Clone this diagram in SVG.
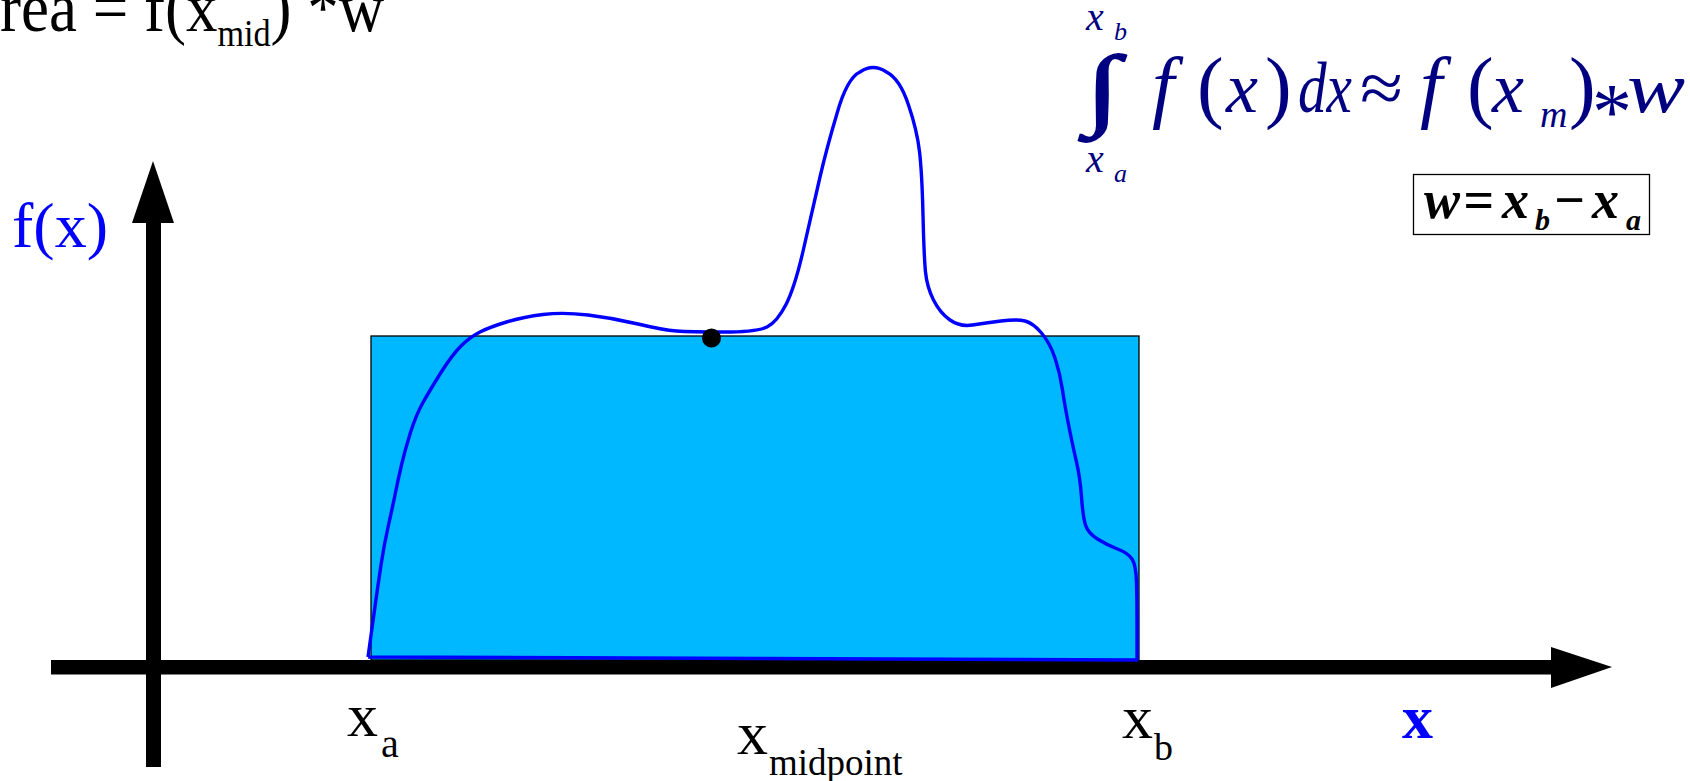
<svg xmlns="http://www.w3.org/2000/svg" width="1690" height="781" viewBox="0 0 1690 781">
<style>
.serif{font-family:"Liberation Serif","Times New Roman",serif}
.ax{fill:#000;stroke:none}
.mf{fill:#000080;font-family:"Liberation Serif","Times New Roman",serif;font-style:italic}
.up{font-style:normal}
.bx{fill:#000;font-family:"Liberation Serif","Times New Roman",serif;font-style:italic;font-weight:bold}
.lbl{fill:#000;font-family:"Liberation Serif","Times New Roman",serif}
</style>
<rect width="1690" height="781" fill="#fff"/>
<g id="area">
<rect x="371" y="336" width="768" height="324" fill="#00b8ff" stroke="#000" stroke-width="1.3"/>
</g>
<g id="connectors">
<rect class="ax" x="146" y="222" width="15" height="545"/>
<polygon class="ax" points="132,223 153,161 174,223"/>
<rect class="ax" x="51" y="660" width="1502" height="14.5"/>
<polygon class="ax" points="1551,647 1612,667 1551,688"/>
</g>
<g id="curve">
<path fill="none" stroke="#0000ff" stroke-width="3.4" stroke-linejoin="round" d="M368,657 Q372,628 375,606.5 Q378,585 381,565 Q384,545 388.5,525 Q393,505 395.5,492.5 Q398,480 401.5,465 Q405,450 410.5,432.5 Q416,415 423,402.5 Q430,390 441,372.5 Q452,355 461,346 Q470,337 480,332 Q490,327 506.5,322 Q523,317 543,314.5 Q563,312 588,315 Q613,318 638,324 Q663,330 676.5,331 Q690,332 723.5,332 Q757,332 767,327 Q777,322 786,304.5 Q795,287 804,247 Q813,207 820,177 Q827,147 837,113.5 Q847,78 860,72 Q873,63 886.5,72 Q900,79 908.5,105 Q917,130 919.5,151.5 Q922,173 923,215 Q924,257 925.5,272 Q927,287 933.5,300 Q940,313 950,320 Q960,327 972.5,325 Q985,323 1001,321 Q1017,319 1025,321 Q1033,323 1041.5,333 Q1050,343 1055,358 Q1060,373 1062.5,390 Q1065,407 1069,427 Q1073,447 1076.5,462 Q1080,477 1081.5,497 Q1083,517 1085.5,525 Q1088,533 1097.5,539 Q1107,545 1117.5,549 Q1128,553 1132,559 Q1136,565 1136.5,582.5 Q1137,600 1137,620 L1137,660 L368,657"/>
</g>
<g id="midpoint-dot">
<circle cx="711.5" cy="338" r="9.5" fill="#000"/>
</g>
<g id="title" transform="scale(0.9 1)">
<text class="lbl" x="-50.5" y="31" font-size="70">Area = f(x<tspan font-size="38" dy="15">mid</tspan><tspan dy="-15">) *w</tspan></text>
</g>
<g id="y-label">
<text class="serif" x="12" y="247" font-size="64" fill="#0000ff">f(x)</text>
</g>
<g id="label-xa">
<text class="lbl" x="347" y="736" font-size="62">x</text>
<text class="lbl" x="381" y="757" font-size="40">a</text>
</g>
<g id="label-xmid">
<text class="lbl" x="737" y="754" font-size="62">x</text>
<text class="lbl" x="769" y="775" font-size="37">midpoint</text>
</g>
<g id="label-xb">
<text class="lbl" x="1122" y="738" font-size="62">x</text>
<text class="lbl" x="1154" y="760" font-size="38">b</text>
</g>
<g id="x-label">
<text class="serif" x="1402" y="738" font-size="62" font-weight="bold" fill="#0000ff">x</text>
</g>
<g id="formula">
<text class="mf" x="1086" y="30" font-size="40">x</text>
<text class="mf" x="1114" y="40" font-size="26">b</text>
<text class="mf up" transform="translate(1085,118) scale(1.4 1)" x="0" y="0" font-size="90" stroke="#000080" stroke-width="1.6">∫</text>
<text class="mf" x="1086" y="172" font-size="40">x</text>
<text class="mf" x="1114" y="182" font-size="26">a</text>
<text class="mf" x="1152" y="113" font-size="80">f</text>
<text class="mf up" x="1197" y="113" font-size="80">(</text>
<text class="mf" x="1226" y="112" font-size="72">x</text>
<text class="mf up" x="1265" y="113" font-size="80">)</text>
<text class="mf" x="1298" y="112" font-size="72" textLength="54" lengthAdjust="spacingAndGlyphs">dx</text>
<text class="mf up" x="1360" y="112" font-size="72" textLength="43" lengthAdjust="spacingAndGlyphs">≈</text>
<text class="mf" x="1420" y="113" font-size="80">f</text>
<text class="mf up" x="1467" y="113" font-size="80">(</text>
<text class="mf" x="1492" y="112" font-size="72">x</text>
<text class="mf" x="1540" y="127" font-size="38">m</text>
<text class="mf up" x="1569" y="113" font-size="80">)</text>
<text class="mf up" x="1592" y="139" font-size="80">*</text>
<text class="mf" x="1627" y="112" font-size="72" textLength="58" lengthAdjust="spacingAndGlyphs">w</text>
</g>
<g id="width-box">
<rect x="1413.5" y="174.5" width="236" height="60" fill="#fff" stroke="#000" stroke-width="1.3"/>
<text class="bx" x="1424" y="218" font-size="54">w</text>
<text class="bx up" x="1463" y="218" font-size="54">=</text>
<text class="bx" x="1502" y="218" font-size="54">x</text>
<text class="bx" x="1535" y="230" font-size="30">b</text>
<text class="bx up" x="1553" y="218" font-size="54">−</text>
<text class="bx" x="1592" y="218" font-size="54">x</text>
<text class="bx" x="1626" y="230" font-size="30">a</text>
</g>
</svg>
